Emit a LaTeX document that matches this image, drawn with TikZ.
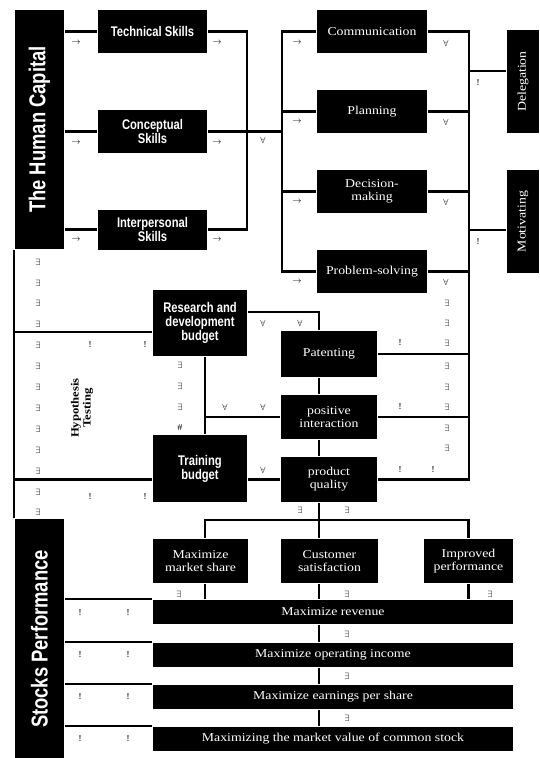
\documentclass[tikz,border=0pt]{standalone}
\usepackage{fontspec}
\setmainfont[FakeStretch=1.15]{Liberation Serif}
\newfontfamily\condfont[FakeStretch=0.8]{Liberation Sans}

\begin{document}
\begin{tikzpicture}
    [x=1pt,y=-1pt,line width=2.2pt,
      blackbox/.style={fill=black,text=white,inner sep=1pt,align=center},
      heavy/.style={blackbox,font=\condfont\bfseries\fontsize{14}{14}\selectfont},
      serifbox/.style={blackbox,font=\fontsize{12}{13}\selectfont},
      banner/.style={blackbox,font=\condfont\bfseries\fontsize{23}{23}\selectfont},
      sym/.style={inner sep=0pt,font=\fontsize{9}{9}\selectfont}
    ]

    \fill[white] (0,0) rectangle (539,758);
    \useasboundingbox (0,0) rectangle (539,758);

    \node [banner,minimum width=49,minimum height=239] (hc) at (39.5,129.5) {\rotatebox{90}{The Human Capital}};
    \node [banner,minimum width=49,minimum height=240] (sp) at (39.5,639) {\rotatebox{90}{Stocks Performance}};

    \node [heavy,minimum width=109,minimum height=43] (tech) at (152.5,31.5) {Technical Skills};
    \node [heavy,minimum width=109,minimum height=43] (concept) at (152.5,131.5) {Conceptual\\Skills};
    \node [heavy,minimum width=109,minimum height=40] (inter) at (152.5,229.5) {Interpersonal\\Skills};

    \node [serifbox,minimum width=110,minimum height=43] (comm) at (372,31.5) {Communication};
    \node [serifbox,minimum width=110,minimum height=43] (plan) at (372,111.5) {Planning};
    \node [serifbox,minimum width=110,minimum height=43] (decis) at (372,191.5) {Decision-\\making};
    \node [serifbox,minimum width=110,minimum height=43] (probl) at (372,271.5) {Problem-solving};

    \node [serifbox,minimum width=32,minimum height=103] (deleg) at (523,81.5) {\rotatebox{90}{Delegation}};
    \node [serifbox,minimum width=32,minimum height=103] (motiv) at (523,221.5) {\rotatebox{90}{Motivating}};

    \node [heavy,minimum width=94,minimum height=66] (rnd) at (200,323) {Research and\\development\\budget};
    \node [heavy,minimum width=94,minimum height=67] (train) at (200,468.5) {Training\\budget};

    \node [serifbox,minimum width=96,minimum height=46] (patent) at (329,354) {Patenting};
    \node [serifbox,minimum width=96,minimum height=44] (posint) at (329,417) {positive\\interaction};
    \node [serifbox,minimum width=96,minimum height=45] (prodq) at (329,479.5) {product\\quality};

    \node [serifbox,minimum width=95,minimum height=44] (mshare) at (200.5,561) {Maximize\\market share};
    \node [serifbox,minimum width=97,minimum height=44] (custsat) at (329.5,561) {Customer\\satisfaction};
    \node [serifbox,minimum width=89,minimum height=44] (improv) at (468.5,561) {Improved\\performance};

    \node [serifbox,minimum width=360,minimum height=24] (revenue) at (333,612) {Maximize revenue};
    \node [serifbox,minimum width=360,minimum height=24] (opinc) at (333,655) {Maximize operating income};
    \node [serifbox,minimum width=360,minimum height=24] (eps) at (333,697) {Maximize earnings per share};
    \node [serifbox,minimum width=360,minimum height=24] (mvcs) at (333,739) {Maximizing the market value of common stock};

    \node [rotate=90,align=center,font=\bfseries\fontsize{11}{12}\selectfont] (hyp) at (82,408) {Hypothesis\\Testing};

    \coordinate (ja) at (247,131.5);
    \coordinate (jb) at (282,131.5);
    \coordinate (jc) at (469,71);
    \coordinate (jd) at (469,230);
    \coordinate (la) at (15,332);
    \coordinate (lb) at (15,479.5);
    \coordinate (ra) at (319,312);
    \coordinate (rb) at (205,417);
    \coordinate (ma) at (319,520);

    \draw (hc.east |- tech) -- (tech.west);
    \draw (hc.east |- concept) -- (concept.west);
    \draw (hc.east |- inter) -- (inter.west);
    \draw (tech.east) -| (ja) |- (inter.east);
    \draw (concept.east) -- (ja) -- (jb);
    \draw (comm.west) -| (jb) |- (probl.west);
    \draw (plan.west) -- (plan.west -| jb);
    \draw (decis.west) -- (decis.west -| jb);

    \draw (comm.east) -| (jc |- prodq) -- (prodq.east);
    \draw (plan.east) -- (plan.east -| jc);
    \draw (decis.east) -- (decis.east -| jc);
    \draw (probl.east) -- (probl.east -| jc);
    \draw (patent.east) -- (patent.east -| jc);
    \draw (posint.east) -- (posint.east -| jc);
    \draw (jc) -- (deleg.west |- jc);
    \draw (jd) -- (motiv.west |- jd);

    \draw (hc.south west) -- (sp.north west);
    \draw (la) -- (la -| rnd.west);
    \draw (lb) -- (lb -| train.west);
    \draw (train.east |- lb) -- (prodq.west);
    \draw (rnd.east |- ra) -- (ra) -- (ra |- patent.north);
    \draw (ra |- patent.south) -- (ra |- posint.north);
    \draw (ra |- posint.south) -- (ra |- prodq.north);
    \draw (rb |- rnd.south) -- (rb |- train.north);
    \draw (rb) -- (posint.west);

    \draw (ra |- prodq.south) -- (ma) -- (ma |- custsat.north);
    \draw (rb |- mshare.north) |- (improv.north |- ma) -- (improv.north);
    \draw (rb |- mshare.south) -- (rb |- revenue.north);
    \draw (ma |- custsat.south) -- (ma |- revenue.north);
    \draw (improv.south) -- (improv.south |- revenue.north);
    \draw (ma |- revenue.south) -- (ma |- opinc.north);
    \draw (ma |- opinc.south) -- (ma |- eps.north);
    \draw (ma |- eps.south) -- (ma |- mvcs.north);
    \draw (sp.east |- revenue.north) -- (revenue.north west);
    \draw (sp.east |- opinc.north) -- (opinc.north west);
    \draw (sp.east |- eps.north) -- (eps.north west);
    \draw (sp.east |- mvcs.north) -- (mvcs.north west);

    \foreach \y [count=\i] in {43,143,240} {
      \node [sym] (al\i) at (76,\y) {$\rightarrow$};
      \node [sym] (ar\i) at (217,\y) {$\rightarrow$};
    }
    \foreach \y [count=\i] in {43,122,202,282} {
      \node [sym] (ac\i) at (297,\y) {$\rightarrow$};
      \node [sym] (fc\i) at (446,\y) {$\forall$};
    }
    \foreach \i in {0,...,12}
      \node [sym] (el\i) at (38,{262+20.9*\i}) {$\exists$};
    \foreach \y [count=\i] in {303,323,343,366,387,407,428,448}
      \node [sym] (er\i) at (447,\y) {$\exists$};
    \foreach \y [count=\i] in {365,386,407}
      \node [sym] (em\i) at (180,\y) {$\exists$};
    \node [sym] (hash) at (180,428) {\#};

    \node [sym] (fj) at (263,140) {$\forall$};
    \node [sym] (fr1) at (263,323) {$\forall$};
    \node [sym] (fr2) at (300,323) {$\forall$};
    \node [sym] (fp1) at (225,407) {$\forall$};
    \node [sym] (fp2) at (263,407) {$\forall$};
    \node [sym] (ft) at (263,470) {$\forall$};

    \node [sym] (bd) at (478,83) {!};
    \node [sym] (bm) at (478,242) {!};
    \node [sym] (bh1) at (90,345) {!};
    \node [sym] (bh2) at (145,345) {!};
    \node [sym] (bh3) at (90,497) {!};
    \node [sym] (bh4) at (145,497) {!};
    \node [sym] (bp1) at (400,343) {!};
    \node [sym] (bp2) at (400,407) {!};
    \node [sym] (bp3) at (400,470) {!};
    \node [sym] (bp4) at (433,470) {!};
    \foreach \y [count=\i] in {613,655,697,739} {
      \node [sym] (bs\i) at (80,\y) {!};
      \node [sym] (bt\i) at (128,\y) {!};
    }

    \node [sym] (eq1) at (300,510) {$\exists$};
    \node [sym] (eq2) at (347,510) {$\exists$};
    \node [sym] (eb1) at (179,594) {$\exists$};
    \node [sym] (eb2) at (347,594) {$\exists$};
    \node [sym] (eb3) at (490,594) {$\exists$};
    \foreach \y [count=\i] in {634,676,718}
      \node [sym] (es\i) at (347,\y) {$\exists$};
\end{tikzpicture}
\end{document}
